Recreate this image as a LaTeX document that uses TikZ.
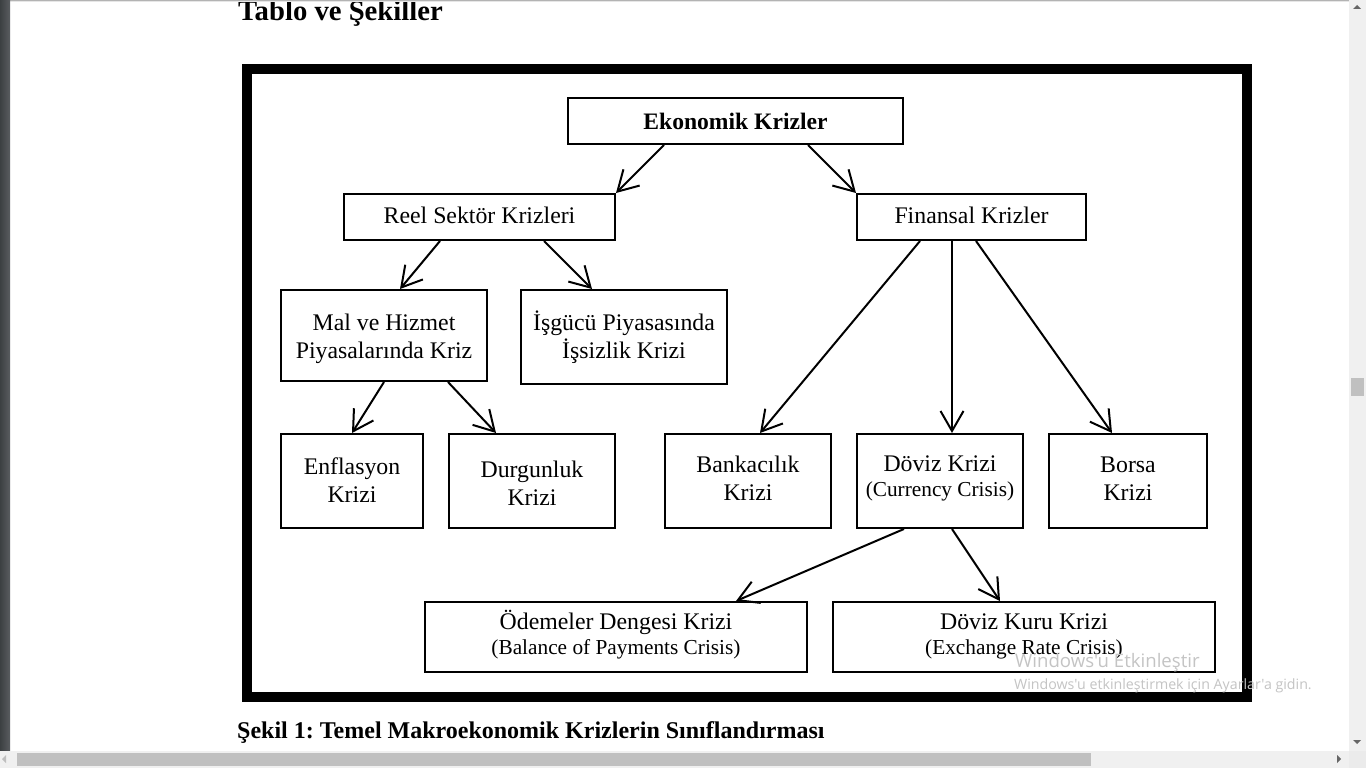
\documentclass[tikz,border=0pt]{standalone}
\usepackage{fontspec}
\setmainfont{Liberation Serif}
\newfontfamily\uifont{Open Sans}
\usetikzlibrary{arrows.meta}
\frenchspacing
\newcommand\mainsz{\fontsize{23.8pt}{28pt}\selectfont}
\newcommand\subsz{\fontsize{21.3pt}{24pt}\selectfont}
\newcommand\shiftup[2]{\raisebox{#1}[\height][\depth]{#2}}
\newcommand\twol[3]{\shiftup{#1}{\begin{tabular}{@{}c@{}}#2\\#3\end{tabular}}}
\newcommand\twos[3]{\shiftup{#1}{\begin{tabular}{@{}c@{}}#2\\[-3pt]\subsz #3\end{tabular}}}
\definecolor{sbg}{HTML}{F0F0F0}
\definecolor{thumb}{HTML}{C0C0C0}
\definecolor{strip}{HTML}{474B4E}
\definecolor{wm}{HTML}{C4C4C4}
\begin{document}
\begin{tikzpicture}[x=1pt,y=-1pt,
  box/.style={draw, line width=2pt, inner sep=0pt, align=center, font=\mainsz},
  arr/.style={line width=2pt, -{Straight Barb[length=20pt,width=23pt]}}]
\useasboundingbox (0,0) rectangle (1366,768);
\fill[white] (0,0) rectangle (1366,768);

% heading
\node[anchor=base west, inner sep=0pt, font=\fontsize{28.7pt}{32pt}\selectfont\bfseries] (head) at (238,21) {Tablo ve Şekiller};

% outer frame
\draw[line width=10pt] (247,69.5) rectangle (1247,697);

% boxes
\node[box, minimum width=335pt, minimum height=46pt, font=\fontsize{23.6pt}{28pt}\selectfont\bfseries] (ek) at (735.5,121) {Ekonomik Krizler};
\node[box, minimum width=271pt, minimum height=46pt] (reel) at (479.5,217) {\shiftup{2pt}{Reel Sektör Krizleri}};
\node[box, minimum width=229pt, minimum height=46pt] (fin) at (971.5,217) {\shiftup{2pt}{Finansal Krizler}};
\node[box, minimum width=206pt, minimum height=91pt] (mal) at (384,335.5) {\twol{-3pt}{Mal ve Hizmet}{Piyasalarında Kriz}};
\node[box, minimum width=206pt, minimum height=94pt] (isg) at (624,337) {\twol{-2pt}{İşgücü Piyasasında}{İşsizlik Krizi}};
\node[box, minimum width=142pt, minimum height=94pt] (enf) at (352,481) {\twol{-2pt}{Enflasyon}{Krizi}};
\node[box, minimum width=166pt, minimum height=94pt] (dur) at (532,481) {\twol{-5pt}{Durgunluk}{Krizi}};
\node[box, minimum width=166pt, minimum height=94pt] (bank) at (748,481) {\twol{0pt}{Bankacılık}{Krizi}};
\node[box, minimum width=166pt, minimum height=94pt] (dov) at (940,481) {\twos{3pt}{Döviz Krizi}{(Currency Crisis)}};
\node[box, minimum width=158pt, minimum height=94pt] (bor) at (1128,481) {\twol{0pt}{Borsa}{Krizi}};
\node[box, minimum width=382pt, minimum height=70pt] (ode) at (616,637) {\twos{1pt}{Ödemeler Dengesi Krizi}{(Balance of Payments Crisis)}};
\node[box, minimum width=382pt, minimum height=70pt] (kur) at (1024,637) {\twos{1pt}{Döviz Kuru Krizi}{(Exchange Rate Crisis)}};

% arrows
\draw[arr] ([xshift=-71.5pt]ek.south) -- ([xshift=136.5pt]reel.north);
\draw[arr] ([xshift=72.5pt]ek.south) -- ([xshift=-115.5pt]fin.north);
\draw[arr] ([xshift=-39.5pt]reel.south) -- ([xshift=16pt]mal.north);
\draw[arr] ([xshift=64.5pt]reel.south) -- ([xshift=-32pt]isg.north);
\draw[arr] (mal.south) -- (enf.north);
\draw[arr] ([xshift=64pt]mal.south) -- ([xshift=-36pt]dur.north);
\draw[arr] ([xshift=-51.5pt]fin.south) -- ([xshift=12pt]bank.north);
\draw[arr] ([xshift=-19.5pt]fin.south) -- ([xshift=12pt]dov.north);
\draw[arr] ([xshift=4.5pt]fin.south) -- ([xshift=-16pt]bor.north);
\draw[arr] ([xshift=-36pt]dov.south) -- ([xshift=120pt]ode.north);
\draw[arr] ([xshift=12pt]dov.south) -- ([xshift=-24pt]kur.north);

% caption
\node[anchor=base west, inner sep=0pt, font=\fontsize{24pt}{28pt}\selectfont\bfseries] (cap) at (237,738) {Şekil 1: Temel Makroekonomik Krizlerin Sınıflandırması};

% watermark
\node[anchor=base west, inner sep=0pt, text=wm, font=\uifont\fontsize{18.6pt}{22pt}\selectfont] (wm1) at (1015,667) {Windows'u Etkinleştir};
\node[anchor=base west, inner sep=0pt, text=wm, font=\uifont\fontsize{14.2pt}{16pt}\selectfont] (wm2) at (1014,689) {Windows'u etkinleştirmek için Ayarlar'a gidin.};

% window chrome
\shade[top color=black!30, bottom color=white] (10,0) rectangle (1349,1.5);
\shade[left color=strip!85!black, right color=strip!90!white] (0,0) rectangle (10,751);
\fill[sbg] (1349,0) rectangle (1366,751);
\fill[sbg] (0,751) rectangle (1349,768);
\fill[black!8] (1349,751) rectangle (1366,768);
\fill[thumb] (1351,378) rectangle (1364,396);
\fill[thumb] (17,753) rectangle (1091,766);
\fill[black!60] (1353,9) -- (1361,9) -- (1357,5) -- cycle;
\fill[black!60] (1353,740) -- (1361,740) -- (1357,744) -- cycle;
\fill[black!60] (1337,755) -- (1337,763) -- (1341,759) -- cycle;
\fill[black!25] (6,755) -- (6,763) -- (2,759) -- cycle;
\end{tikzpicture}
\end{document}
